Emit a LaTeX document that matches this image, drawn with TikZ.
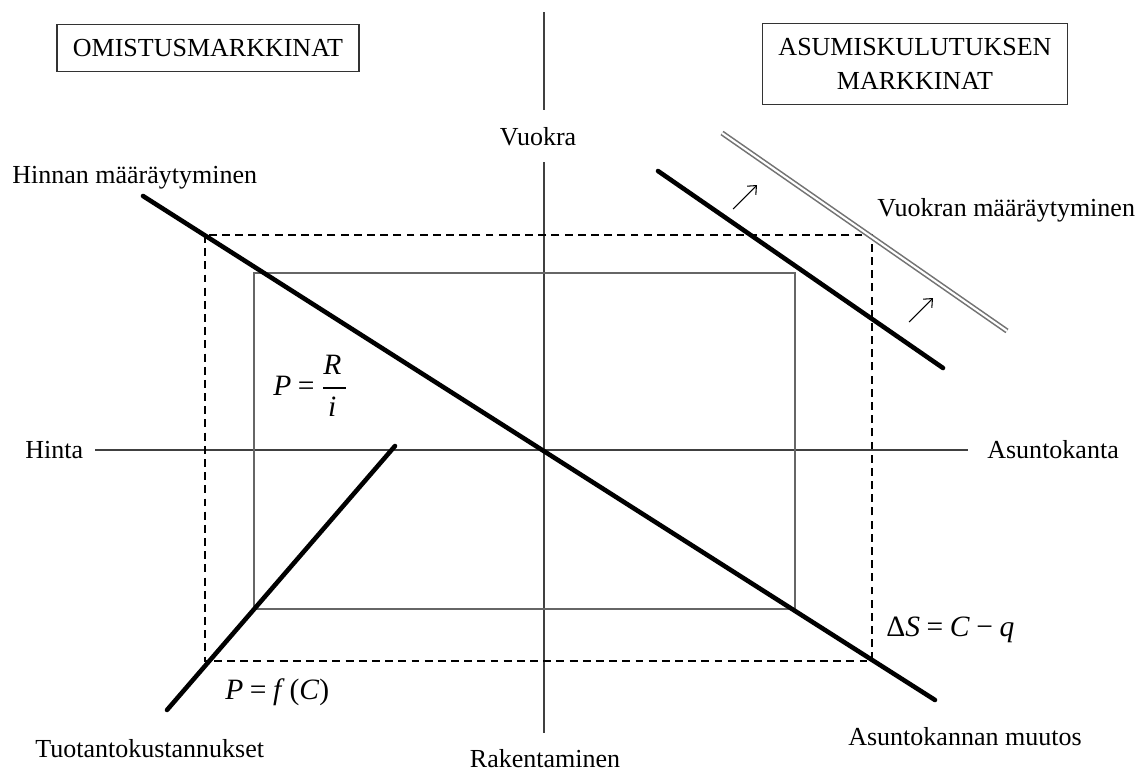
\documentclass[tikz,border=0pt]{standalone}
\usepackage{fontspec}
\setmainfont{Liberation Serif}
\usepackage{amsmath}
\usetikzlibrary{positioning,arrows.meta}

\newcommand{\vi}[1]{\textit{#1}}

\begin{document}
\begin{tikzpicture}[x=0.02cm,y=-0.02cm,
			every node/.style={font=\fontsize{14.8}{19.3}\selectfont, inner sep=0pt},
			market/.style={draw=black!80,thick,align=center,inner xsep=0.32cm,inner ysep=0.3cm},
			formula/.style={anchor=west,font=\fontsize{16.8}{20}\selectfont},
			axis/.style={draw=black!75,line width=0.8pt},
			frame/.style={draw=black!60,line width=0.8pt},
			guide/.style={draw=black,line width=0.6pt,dash pattern=on 4.5pt off 3pt},
			curve/.style={line width=2.6pt,line cap=round},
			shiftline/.style={draw=black!55,line width=0.9pt,double=white,double distance=1.2pt},
			shiftarrow/.style={-{Straight Barb[length=4pt,width=7pt]},line width=0.6pt}
		]
		\useasboundingbox (0,0) rectangle (1137,771);
		% markets
		\node (omistus) [market] at (208,48) {OMISTUSMARKKINAT};
		\node (asumis) [market] at (915,64) {ASUMISKULUTUKSEN\\MARKKINAT};
		% axes
		\node (vuokra) [anchor=base] at (538,145) {Vuokra};
		\node (rakent) [anchor=base] at (545,767) {Rakentaminen};
		\node (hinta) [anchor=base west] at (25,458) {Hinta};
		\node (kanta) [anchor=base west] at (987,458) {Asuntokanta};
		\draw[axis] (544,12) -- (544,110);
		\draw[axis] (544,162) -- (544,733);
		\draw[axis] (95,450) -- (968,450);
		% quadrant labels
		\node (hinnan) [anchor=base west] at (12,183) {Hinnan määräytyminen};
		\node (vuokran) [anchor=base west] at (877,216) {Vuokran määräytyminen};
		\node (tuotanto) [anchor=base west] at (35,757) {Tuotantokustannukset};
		\node (muutos) [anchor=base west] at (848,745) {Asuntokannan muutos};
		% equations
		\node (pri) [formula] at (273,386) {\vi{P}\:=\:$\dfrac{\text{\vi{R}\,}}{\text{\vi{i}\,}}$};
		\node (pfc) [formula] at (225,692) {\vi{P}\:=\:\vi{f}\,(\vi{C})};
		\node (dsc) [formula] at (886,630) {Δ\vi{S}\:=\:\vi{C}\:−\:\vi{q}};
		% equilibrium frames
		\draw[guide] (205,235) rectangle (872,661);
		\draw[frame] (254,273) rectangle (795,609);
		% curves
		\draw[curve] (143,196) -- (935,700);
		\draw[curve] (167,710) -- (395,446);
		\draw[curve] (658,171) -- (943,368);
		\draw[shiftline] (722,133) -- (1007,331);
		\draw[shiftarrow] (733,209) -- (757,185);
		\draw[shiftarrow] (909,322) -- (933,298);
	\end{tikzpicture}
\end{document}
